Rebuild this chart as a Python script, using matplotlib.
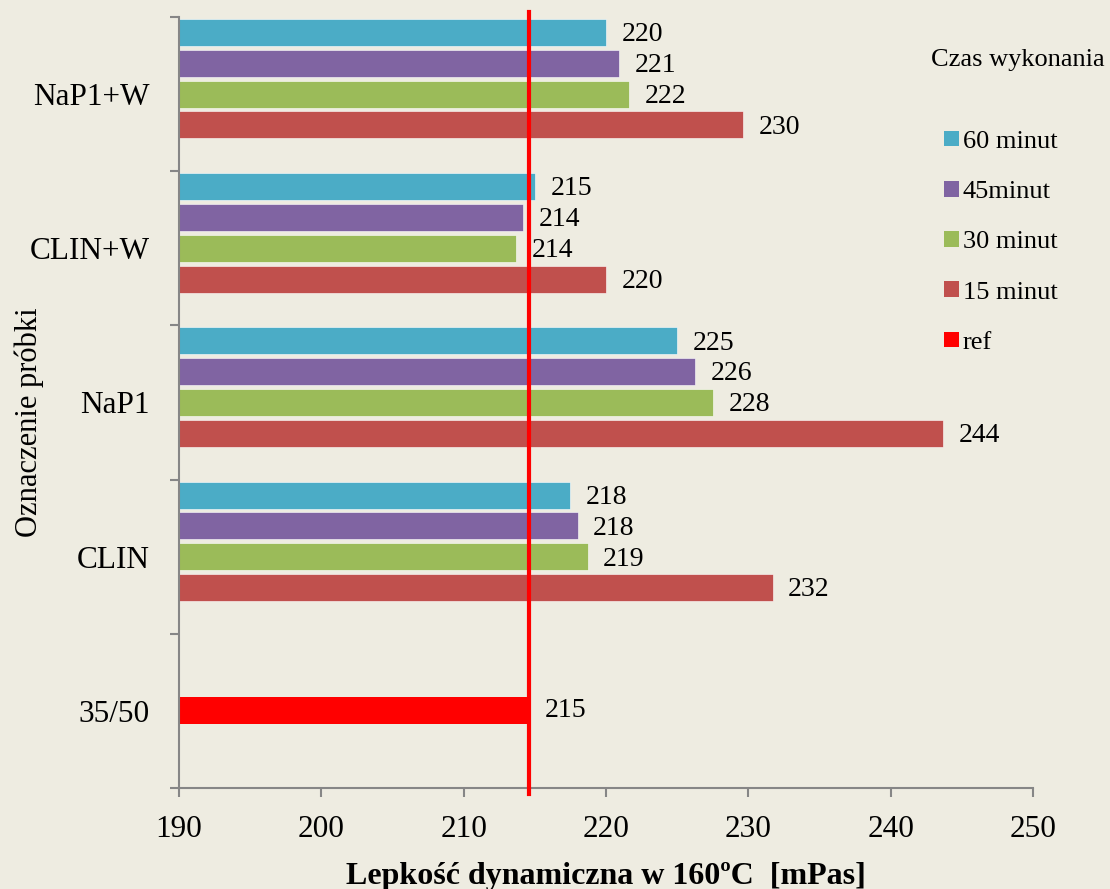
import matplotlib.pyplot as plt
from matplotlib.patches import Patch
import numpy as np

plt.rcParams['font.family'] = ['Liberation Serif', 'DejaVu Serif']

# data
categories = ['35/50', 'CLIN', 'NaP1', 'CLIN+W', 'NaP1+W']
samples = ['CLIN', 'NaP1', 'CLIN+W', 'NaP1+W']
t60 = [217.5, 225.0, 215.0, 220.0]
t45 = [218.0, 226.25, 214.2, 220.9]
t30 = [218.7, 227.5, 213.7, 221.6]
t15 = [231.7, 243.7, 220.0, 229.6]
ref_value = 214.6

series = [('60 minut', t60, '#4BACC6'),
          ('45minut', t45, '#8064A2'),
          ('30 minut', t30, '#9BBB59'),
          ('15 minut', t15, '#C0504D')]
ref_color = '#FF0000'
bg = '#EEECE1'

fig = plt.figure(figsize=(11.1, 8.89), dpi=100, facecolor=bg)
ax = fig.add_axes([0.1613, 0.1136, 0.9306 - 0.1613, 0.9809 - 0.1136])
ax.set_facecolor(bg)

ypos = np.arange(1, len(samples) + 1)
slot = 0.2
h = 0.175
offsets = [2 * slot, slot, 0, -slot]
for (name, vals, col), off in zip(series, offsets):
    y = ypos + off
    ax.barh(y, np.array(vals) - 190, left=190, height=h, color=col,
            edgecolor='white', linewidth=0.4)
    for yy, v in zip(y, vals):
        ax.text(v + 1.1, yy - 0.015, '%d' % round(v), va='center', ha='left', fontsize=20)

ax.barh(0, ref_value - 190, left=190, height=h, color=ref_color)
ax.text(ref_value + 1.1, 0, '%d' % round(ref_value), va='center', ha='left', fontsize=20)

ax.axvline(ref_value, ymin=-0.008, ymax=1.007, color=ref_color, lw=3, clip_on=False, zorder=5)

ax.set_xlim(190, 250)
ax.set_ylim(-0.5, 4.5)
ax.set_xticks(np.arange(190, 251, 10))
ax.tick_params(axis='x', labelsize=22.5, length=6.5, width=1.5, color='#868686', direction='out', pad=13)

ax.set_yticks(np.arange(-0.5, 4.6, 1))
ax.set_yticklabels([])
ax.set_yticks(np.arange(0, 5), minor=True)
ax.set_yticklabels(categories, minor=True, fontsize=22.5)
ax.tick_params(axis='y', which='major', length=6.5, width=1.5, color='#868686', direction='out')
ax.tick_params(axis='y', which='minor', length=0, pad=21)

for s in ['top', 'right']:
    ax.spines[s].set_visible(False)
for s in ['left', 'bottom']:
    ax.spines[s].set_color('#868686')
    ax.spines[s].set_linewidth(1.5)

ax.set_xlabel('Lepkość dynamiczna w 160ºC  [mPas]', fontsize=23, fontweight='bold')
ax.xaxis.set_label_coords(0.5, -0.096)
ax.set_ylabel('Oznaczenie próbki', fontsize=22)
ax.yaxis.set_label_coords(-0.158, 0.475)

fig.text(0.9955, 0.9325, 'Czas wykonania', ha='right', va='center', fontsize=19)
handles = [Patch(facecolor=c) for _, _, c in series] + [Patch(facecolor=ref_color)]
labels = [n for n, _, _ in series] + ['ref']
fig.legend(handles, labels, loc='upper left', bbox_to_anchor=(0.841, 0.865),
           frameon=False, fontsize=19, handlelength=0.55, handleheight=0.55,
           handletextpad=0.15, labelspacing=1.06, borderaxespad=0)

fig.savefig('out.png', dpi=100, facecolor=bg)
